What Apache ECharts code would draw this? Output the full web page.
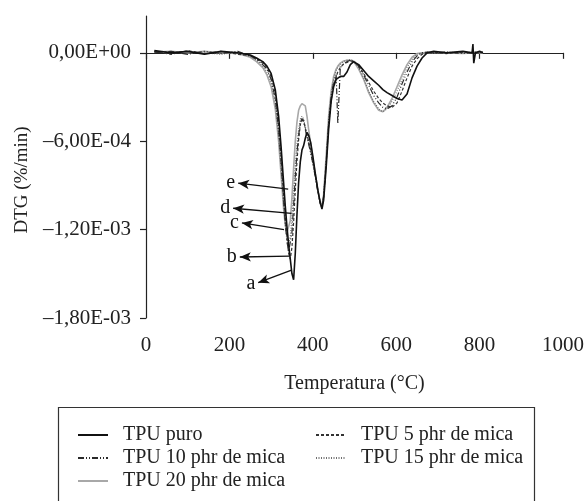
<!DOCTYPE html>
<html>
<head>
<meta charset="utf-8">
<script src="https://cdn.jsdelivr.net/npm/echarts@6/dist/echarts.min.js"></script>
<style>
html,body{margin:0;padding:0;background:#fff;}
#chart{width:584px;height:501px;}
</style>
</head>
<body>
<div id="chart"></div>
<script>
// Temperature (°C) sample points shared by all curves
const temps = [20, 60, 100, 140, 180, 220, 250, 265, 280, 290, 300, 310, 318, 324, 330, 334, 338, 342, 346, 350, 354, 358, 362, 366, 370, 374, 378, 382, 386, 390, 395, 400, 406, 412, 418, 422, 426, 432, 438, 444, 450, 456, 460, 466, 474, 482, 490, 498, 510, 522, 534, 546, 558, 568, 578, 590, 602, 614, 626, 638, 650, 662, 674, 690, 720, 760, 782, 784, 786, 790, 800, 808];

// DTG (%/min) values
const tpuPuro = [0.15e-4, 0.0, 0.1e-4, -0.1e-4, 0.1e-4, 0.0, -0.15e-4, -0.35e-4, -0.6e-4, -0.9e-4, -1.4e-4, -2.5e-4, -4.3e-4, -6.4e-4, -8.8e-4, -10.4e-4, -11.8e-4, -13.0e-4, -14.0e-4, -15.0e-4, -15.4e-4, -13.6e-4, -11.0e-4, -8.8e-4, -7.4e-4, -6.6e-4, -6.3e-4, -5.8e-4, -5.4e-4, -5.6e-4, -6.1e-4, -7.0e-4, -8.2e-4, -9.3e-4, -10.2e-4, -10.6e-4, -10.0e-4, -7.8e-4, -5.2e-4, -3.3e-4, -2.3e-4, -1.8e-4, -1.7e-4, -1.6e-4, -1.6e-4, -1.3e-4, -0.8e-4, -0.6e-4, -0.8e-4, -1.2e-4, -1.6e-4, -1.9e-4, -2.2e-4, -2.5e-4, -2.7e-4, -2.9e-4, -3.1e-4, -3.2e-4, -2.8e-4, -1.7e-4, -0.9e-4, -0.35e-4, 0.0, 0.1e-4, 0.0, 0.1e-4, 0.0, 0.6e-4, -0.7e-4, 0.0, 0.1e-4, 0.0];
const tpu5 = [0.1e-4, -0.1e-4, 0.15e-4, -0.05e-4, 0.1e-4, -0.1e-4, -0.2e-4, -0.4e-4, -0.7e-4, -1.0e-4, -1.6e-4, -2.8e-4, -4.8e-4, -7.0e-4, -9.6e-4, -11.2e-4, -12.6e-4, -13.6e-4, -14.0e-4, -13.2e-4, -11.5e-4, -9.3e-4, -7.4e-4, -5.9e-4, -4.9e-4, -4.4e-4, -4.6e-4, -5.1e-4, -5.6e-4, -6.0e-4, -6.6e-4, -7.3e-4, -8.3e-4, -9.3e-4, -10.2e-4, -10.5e-4, -9.8e-4, -7.6e-4, -4.9e-4, -3.2e-4, -2.2e-4, -1.6e-4, -1.3e-4, -1.0e-4, -0.75e-4, -0.65e-4, -0.55e-4, -0.6e-4, -0.9e-4, -1.4e-4, -2.0e-4, -2.6e-4, -3.1e-4, -3.4e-4, -3.6e-4, -3.7e-4, -3.4e-4, -2.6e-4, -1.7e-4, -0.9e-4, -0.4e-4, -0.1e-4, 0.0, 0.05e-4, -0.05e-4, 0.05e-4, 0.0, 0.0, 0.0, 0.0, 0.05e-4, 0.0];
const tpu10 = [0.0, 0.1e-4, -0.1e-4, 0.1e-4, -0.05e-4, 0.1e-4, -0.2e-4, -0.45e-4, -0.8e-4, -1.1e-4, -1.8e-4, -3.1e-4, -5.2e-4, -7.4e-4, -10.0e-4, -11.6e-4, -12.8e-4, -13.5e-4, -13.4e-4, -12.2e-4, -10.4e-4, -8.4e-4, -6.8e-4, -5.6e-4, -4.8e-4, -4.5e-4, -4.7e-4, -5.2e-4, -5.7e-4, -6.2e-4, -6.8e-4, -7.5e-4, -8.4e-4, -9.4e-4, -10.2e-4, -10.4e-4, -9.7e-4, -7.4e-4, -4.8e-4, -3.0e-4, -2.0e-4, -1.5e-4, -4.8e-4, -1.0e-4, -0.75e-4, -0.6e-4, -0.5e-4, -0.55e-4, -0.9e-4, -1.5e-4, -2.2e-4, -2.9e-4, -3.4e-4, -3.7e-4, -3.8e-4, -3.6e-4, -3.0e-4, -2.1e-4, -1.3e-4, -0.6e-4, -0.2e-4, 0.0, 0.05e-4, 0.0, 0.05e-4, -0.05e-4, 0.0, 0.0, 0.0, 0.05e-4, 0.0, 0.05e-4];
const tpu15 = [0.1e-4, 0.0, 0.1e-4, 0.0, -0.1e-4, 0.05e-4, -0.25e-4, -0.5e-4, -0.9e-4, -1.3e-4, -2.0e-4, -3.4e-4, -5.6e-4, -7.9e-4, -10.3e-4, -11.6e-4, -12.5e-4, -12.9e-4, -12.5e-4, -11.2e-4, -9.4e-4, -7.6e-4, -6.2e-4, -5.2e-4, -4.5e-4, -4.3e-4, -4.5e-4, -5.0e-4, -5.6e-4, -6.1e-4, -6.8e-4, -7.5e-4, -8.4e-4, -9.4e-4, -10.3e-4, -10.5e-4, -9.8e-4, -7.4e-4, -4.6e-4, -2.8e-4, -1.8e-4, -1.2e-4, -1.0e-4, -0.8e-4, -0.6e-4, -0.5e-4, -0.45e-4, -0.55e-4, -1.0e-4, -1.7e-4, -2.6e-4, -3.3e-4, -3.8e-4, -4.0e-4, -3.8e-4, -3.3e-4, -2.6e-4, -1.8e-4, -1.0e-4, -0.45e-4, -0.1e-4, 0.0, 0.05e-4, -0.05e-4, 0.05e-4, 0.0, 0.05e-4, 0.0, 0.0, 0.0, 0.0, 0.05e-4];
const tpu20 = [0.05e-4, 0.1e-4, 0.0, 0.1e-4, 0.0, -0.05e-4, -0.3e-4, -0.6e-4, -1.0e-4, -1.5e-4, -2.3e-4, -3.8e-4, -6.0e-4, -8.3e-4, -10.6e-4, -11.7e-4, -12.2e-4, -12.2e-4, -11.4e-4, -9.8e-4, -7.8e-4, -6.0e-4, -4.7e-4, -3.9e-4, -3.6e-4, -3.45e-4, -3.35e-4, -3.6e-4, -4.3e-4, -5.2e-4, -6.2e-4, -7.2e-4, -8.2e-4, -9.3e-4, -10.2e-4, -10.4e-4, -9.6e-4, -7.0e-4, -4.3e-4, -2.6e-4, -1.6e-4, -1.1e-4, -0.9e-4, -0.7e-4, -0.55e-4, -0.5e-4, -0.5e-4, -0.6e-4, -1.1e-4, -1.8e-4, -2.7e-4, -3.4e-4, -3.9e-4, -4.0e-4, -3.7e-4, -3.1e-4, -2.3e-4, -1.5e-4, -0.8e-4, -0.3e-4, -0.05e-4, 0.0, 0.0, 0.05e-4, 0.0, -0.05e-4, 0.0, 0.0, 0.0, 0.05e-4, 0.0, 0.0];

const seriesNames = ['TPU puro', 'TPU 5 phr de mica', 'TPU 10 phr de mica', 'TPU 15 phr de mica', 'TPU 20 phr de mica'];

// Axis ticks
const xTicks = [0, 200, 400, 600, 800, 1000];
const xTickLabels = ['0', '200', '400', '600', '800', '1000'];
const yTickValues = [-1.8e-3, -1.2e-3, -6e-4, 0];
const yTickLabels = ['\u20131,80E-03', '\u20131,20E-03', '\u20136,00E-04', '0,00E+00'];

// Annotation arrows: letter, point on curve [T, DTG], arrow head [T, DTG]
const arrowLetters = ['a', 'b', 'c', 'd', 'e'];
const arrowTails = [[349, -1.475e-3], [345, -1.38e-3], [331, -1.20e-3], [349, -1.09e-3], [341, -9.25e-4]];
const arrowHeads = [[269, -1.56e-3], [225, -1.386e-3], [230, -1.155e-3], [209, -1.055e-3], [221, -8.85e-4]];

const FONT = 'Liberation Serif';
const seriesValues = [tpuPuro, tpu5, tpu10, tpu15, tpu20];
const seriesStyles = [
  { color: '#111', width: 1.6, type: 'solid' },
  { color: '#333', width: 1.2, type: [3, 2] },
  { color: '#2a2a2a', width: 1.2, type: [6, 2, 1, 2, 1, 2] },
  { color: '#6e6e6e', width: 1.2, type: [1, 1.5] },
  { color: '#a8a8a8', width: 1.6, type: 'solid' }
];

const series = seriesValues.map((vals, i) => ({
  name: seriesNames[i],
  type: 'line',
  symbol: 'none',
  showSymbol: false,
  data: temps.map((t, k) => [t, vals[k]]),
  lineStyle: seriesStyles[i],
  itemStyle: { color: seriesStyles[i].color },
  z: 5 - i
}));

series.push({
  name: 'arrows',
  type: 'line',
  data: [],
  markLine: {
    silent: true,
    symbol: ['none', 'arrow'],
    symbolSize: [7, 11],
    animation: false,
    lineStyle: { color: '#111', width: 1.3, type: 'solid' },
    label: {
      show: true, position: 'end', formatter: '{b}', distance: 3,
      fontFamily: FONT, fontSize: 20, color: '#111'
    },
    data: arrowLetters.map((l, i) => [
      { name: l, coord: arrowTails[i] },
      { coord: arrowHeads[i] }
    ])
  }
});

const legendCommon = {
  orient: 'vertical', top: 420, itemGap: 3,
  itemWidth: 30, itemHeight: 12,
  itemStyle: { opacity: 0 },
  textStyle: { fontFamily: FONT, fontSize: 20, color: '#222', padding: [0, 0, 0, 10] },
  selectedMode: false
};

const chart = echarts.init(document.getElementById('chart'));
chart.setOption({
  animation: false,
  backgroundColor: '#fff',
  grid: { left: 146, right: 21, top: 16, bottom: 183, outerBoundsMode: 'none', containLabel: false },
  xAxis: {
    type: 'value', min: 0, max: 1000, interval: 200,
    name: 'Temperatura (\u00b0C)', nameLocation: 'middle', nameGap: 56,
    nameTextStyle: { fontFamily: FONT, fontSize: 20, color: '#222' },
    axisLine: { show: true, lineStyle: { color: '#222', width: 1.2 } },
    axisTick: { show: true, inside: false, length: 6, lineStyle: { color: '#222', width: 1.2 } },
    axisLabel: {
      fontFamily: FONT, fontSize: 21, color: '#222', margin: 17,
      formatter: function (v) {
        const i = xTicks.indexOf(v);
        return i >= 0 ? xTickLabels[i] : String(v);
      }
    },
    splitLine: { show: false }
  },
  yAxis: {
    type: 'value', min: -1.8e-3, max: 2.5e-4, interval: 6e-4,
    name: 'DTG (%/min)', nameLocation: 'middle', nameGap: 114,
    nameTextStyle: { fontFamily: FONT, fontSize: 19, color: '#222', padding: [0, 26, 0, 0] },
    axisLine: { show: true, onZero: false, lineStyle: { color: '#222', width: 1.2 } },
    axisTick: { show: true, length: 6, customValues: yTickValues, lineStyle: { color: '#222', width: 1.2 } },
    axisLabel: {
      fontFamily: FONT, fontSize: 21, color: '#222', margin: 15,
      customValues: yTickValues,
      formatter: function (v) {
        let best = 0;
        yTickValues.forEach((t, i) => { if (Math.abs(t - v) < Math.abs(yTickValues[best] - v)) best = i; });
        return yTickLabels[best];
      }
    },
    splitLine: { show: false }
  },
  legend: [
    Object.assign({}, legendCommon, { data: [seriesNames[0], seriesNames[2], seriesNames[4]], left: 72 }),
    Object.assign({}, legendCommon, { data: [seriesNames[1], seriesNames[3]], left: 310 })
  ],
  graphic: [
    {
      type: 'rect', left: 56, top: 405, silent: true,
      shape: { width: 476, height: 110 },
      style: { fill: 'none', stroke: '#333', lineWidth: 1.2 }
    }
  ],
  series: series
});
</script>
</body>
</html>
